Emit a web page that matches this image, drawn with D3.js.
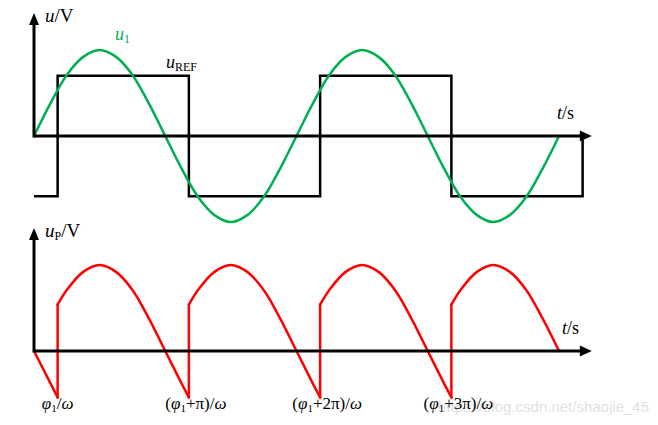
<!DOCTYPE html>
<html>
<head>
<meta charset="utf-8">
<script src="https://cdn.jsdelivr.net/npm/d3@7"></script>
<style>
  html, body { margin: 0; padding: 0; background: #fff; }
  svg { display: block; }
</style>
</head>
<body>
<div id="chart"></div>
<script>
// ---- Data (time in units of π/ω, voltage normalised to u1 amplitude) ----
const phi = 0.18; // φ1 expressed in units of π

const u1Time = [0, 0.125, 0.25, 0.375, 0.5, 0.625, 0.75, 0.875, 1,
  1.125, 1.25, 1.375, 1.5, 1.625, 1.75, 1.875, 2,
  2.125, 2.25, 2.375, 2.5, 2.625, 2.75, 2.875, 3,
  3.125, 3.25, 3.375, 3.5, 3.625, 3.75, 3.875, 4];
const u1Value = [0, 0.38, 0.71, 0.92, 1, 0.92, 0.71, 0.38, 0,
  -0.38, -0.71, -0.92, -1, -0.92, -0.71, -0.38, 0,
  0.38, 0.71, 0.92, 1, 0.92, 0.71, 0.38, 0,
  -0.38, -0.71, -0.92, -1, -0.92, -0.71, -0.38, 0];

// uREF: square wave (step points)
const uRefTime = [0, 0.18, 0.18, 1.18, 1.18, 2.18, 2.18, 3.18, 3.18, 4.18, 4.18];
const uRefValue = [-0.7, -0.7, 0.7, 0.7, -0.7, -0.7, 0.7, 0.7, -0.7, -0.7, 0];

// uP: output waveform (jumps at (φ1+kπ)/ω)
const uPTime = [0, 0.18,
  0.18, 0.25, 0.375, 0.5, 0.625, 0.75, 0.875, 1, 1.125, 1.18,
  1.18, 1.25, 1.375, 1.5, 1.625, 1.75, 1.875, 2, 2.125, 2.18,
  2.18, 2.25, 2.375, 2.5, 2.625, 2.75, 2.875, 3, 3.125, 3.18,
  3.18, 3.25, 3.375, 3.5, 3.625, 3.75, 3.875, 4];
const uPValue = [0, -0.54,
  0.54, 0.71, 0.92, 1, 0.92, 0.71, 0.38, 0, -0.38, -0.54,
  0.54, 0.71, 0.92, 1, 0.92, 0.71, 0.38, 0, -0.38, -0.54,
  0.54, 0.71, 0.92, 1, 0.92, 0.71, 0.38, 0, -0.38, -0.54,
  0.54, 0.71, 0.92, 1, 0.92, 0.71, 0.38, 0];

// Tick labels on the lower time axis
const jumpTimes = [0.18, 1.18, 2.18, 3.18];
const jumpLabels = [
  [["φ", "i"], ["1", "sub"], ["/", ""], ["ω", "i"]],
  [["(", ""], ["φ", "i"], ["1", "sub"], ["+π)/", ""], ["ω", "i"]],
  [["(", ""], ["φ", "i"], ["1", "sub"], ["+2π)/", ""], ["ω", "i"]],
  [["(", ""], ["φ", "i"], ["1", "sub"], ["+3π)/", ""], ["ω", "i"]]
];

// ---- Layout ----
const W = 658, H = 425;
const SERIF = "'Liberation Serif', 'DejaVu Serif', 'Times New Roman', serif";
const svg = d3.select("#chart").append("svg").attr("width", W).attr("height", H);

const x = d3.scaleLinear().domain([0, 4]).range([34, 559]);
const yTop = d3.scaleLinear().domain([-1, 1]).range([222, 50]);
const yBot = d3.scaleLinear().domain([-1, 1]).range([437, 265]);
const xAxisEnd = 4.25, yAxisEnd = 1.43;

const green = "#00b050", red = "#ff0000";

// Watermark (drawn first, faint)
svg.append("text").attr("x", 649).attr("y", 412).attr("text-anchor", "end")
  .attr("font-family", "'Liberation Sans', Arial, sans-serif").attr("font-size", 15)
  .attr("fill", "#d2d2d2").attr("fill-opacity", 0.7)
  .text("https://blog.csdn.net/shaojie_45");

function drawAxes(y) {
  const g = svg.append("g");
  const x0 = x(0), y0 = y(0);
  const xe = x(xAxisEnd), ye = y(yAxisEnd);
  g.append("line").attr("x1", x0).attr("y1", y0).attr("x2", xe - 8).attr("y2", y0)
    .attr("stroke", "#000").attr("stroke-width", 3);
  g.append("line").attr("x1", x0).attr("y1", y0 + 1.5).attr("x2", x0).attr("y2", ye + 8)
    .attr("stroke", "#000").attr("stroke-width", 3);
  g.append("path").attr("d", `M${xe},${y0} L${xe - 12},${y0 - 5.5} L${xe - 12},${y0 + 5.5} Z`).attr("fill", "#000");
  g.append("path").attr("d", `M${x0},${ye} L${x0 - 5},${ye + 12} L${x0 + 5},${ye + 12} Z`).attr("fill", "#000");
}

// ---- Top panel ----
const sq = d3.range(uRefTime.length).map(i => [uRefTime[i], uRefValue[i]]);
svg.append("path")
  .attr("d", d3.line().x(d => x(d[0])).y(d => yTop(d[1]))(sq))
  .attr("fill", "none").attr("stroke", "#000").attr("stroke-width", 2.5)
  .attr("stroke-linejoin", "miter");

const sine = d3.range(u1Time.length).map(i => [u1Time[i], u1Value[i]]);
svg.append("path")
  .attr("d", d3.line().x(d => x(d[0])).y(d => yTop(d[1])).curve(d3.curveCatmullRom)(sine))
  .attr("fill", "none").attr("stroke", green).attr("stroke-width", 2.5);

drawAxes(yTop);

// ---- Bottom panel ----
const pts = d3.range(uPTime.length).map(i => [uPTime[i], uPValue[i]]);
const segs = [];
let cur = [pts[0]];
for (let i = 1; i < pts.length; i++) {
  if (pts[i][0] === pts[i - 1][0]) {
    segs.push({ pts: cur, curve: true });
    segs.push({ pts: [pts[i - 1], pts[i]], curve: false });
    cur = [pts[i]];
  } else cur.push(pts[i]);
}
segs.push({ pts: cur, curve: true });
const lineBot = d3.line().x(d => x(d[0])).y(d => yBot(d[1]));
segs.forEach(s => {
  svg.append("path")
    .attr("d", lineBot.curve(s.curve && s.pts.length > 2 ? d3.curveCatmullRom : d3.curveLinear)(s.pts))
    .attr("fill", "none").attr("stroke", red).attr("stroke-width", 2.5)
    .attr("stroke-linecap", "round").attr("stroke-linejoin", "round");
});

drawAxes(yBot);

// ---- Text ----
function rich(xp, yp, parts, opts = {}) {
  const t = svg.append("text").attr("x", xp).attr("y", yp)
    .attr("font-family", SERIF)
    .attr("font-size", opts.size || 16)
    .attr("fill", opts.color || "#000")
    .attr("text-anchor", opts.anchor || "start");
  parts.forEach(([s, k], i) => {
    const ts = t.append("tspan").text(s);
    if (k === "i") ts.attr("font-style", "italic");
    if (k === "sub") ts.attr("font-size", opts.subSize || 11).attr("dy", 3);
    else if (i > 0 && parts[i - 1][1] === "sub") ts.attr("dy", -3);
  });
  return t;
}

rich(45, 22, [["u", "i"], ["/V", ""]], { size: 19 });
rich(115, 40, [["u", "i"], ["1", "sub"]], { size: 18, color: green, subSize: 12 });
rich(166, 68, [["u", "i"], ["REF", "sub"]], { size: 18, subSize: 12 });
rich(557, 119, [["t", "i"], ["/s", ""]], { size: 18 });

rich(45, 237, [["u", "i"], ["P", "sub"], ["/V", ""]], { size: 19, subSize: 12 });
rich(562, 334, [["t", "i"], ["/s", ""]], { size: 18 });

jumpTimes.forEach((tj, i) => {
  rich(x(tj) + (i === 0 ? 0 : 7), 409, jumpLabels[i], { size: 17, subSize: 11, anchor: "middle" });
});
</script>
</body>
</html>
